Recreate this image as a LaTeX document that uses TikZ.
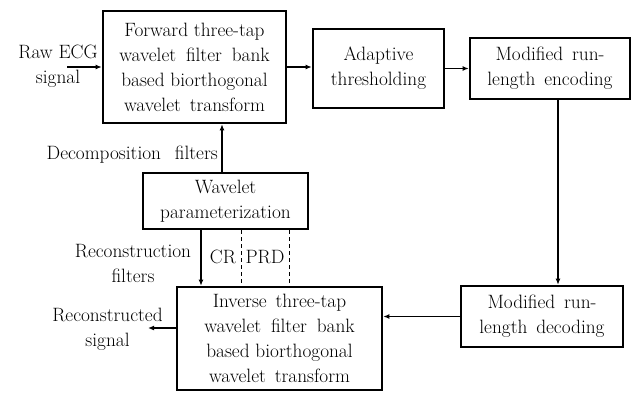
\documentclass[tikz,border=0pt]{standalone}
\usetikzlibrary{arrows.meta,calc}
\begin{document}
\begin{tikzpicture}[x=1pt,y=-1pt,
  every node/.style={font=\fontsize{19.3}{25}\selectfont, align=center, inner sep=0pt},
  blk/.style={draw, line width=2.6pt, minimum width=#1},
  blk/.default=100pt,
  arr/.style={line width=1.2pt, -{Latex[length=6pt,width=5pt]}},
  dsh/.style={line width=1pt, dash pattern=on 4pt off 3pt}]
\useasboundingbox (0,0) rectangle (633,392);
\node[blk=183pt, minimum height=112pt] (fwd) at (194.5,67) {Forward three-tap\\wavelet\hspace{4pt} filter\hspace{4pt} bank\\based biorthogonal\\wavelet\hspace{3pt} transform};
\node[blk=131pt, minimum height=79pt] (thr) at (378.5,68.5) {Adaptive\\thresholding};
\node[blk=160pt, minimum height=61pt] (enc) at (550,68.5) {Modified\hspace{3pt} run-\\length\hspace{3pt} encoding};
\node[blk=165pt, minimum height=56pt] (par) at (225.5,201) {Wavelet\\parameterization};
\node[blk=162pt, minimum height=61pt] (dec) at (542,316.5) {Modified\hspace{3pt} run-\\length\hspace{3pt} decoding};
\node[blk=205pt, minimum height=103pt] (inv) at (279.5,338.5) {Inverse\hspace{3pt} three-tap\\wavelet\hspace{4pt} filter\hspace{4pt} bank\\based biorthogonal\\wavelet\hspace{3pt} transform};
\coordinate (in) at (67,67);
\coordinate (out) at (148,328);
\coordinate (pdn) at ($(par.north)+(-3.5,0)$);
\coordinate (prc) at ($(par.south)+(-24.5,0)$);
\coordinate (pcr) at ($(par.south)+(15.5,0)$);
\coordinate (ppr) at ($(par.south)+(63.5,0)$);
\coordinate (ed) at ($(enc.south)+(8,0)$);
\node (rawl) at (58,66.5) {Raw ECG\\signal};
\node[anchor=east] (decl) at (218,155) {Decomposition\hspace{8pt} filters};
\node (recl) at (133,263.5) {Reconstruction\\filters};
\node (crl) at (223,257) {CR};
\node (prdl) at (265,257) {PRD};
\node (outl) at (107.5,329) {Reconstructed\\signal};
\draw[arr] (in) -- (fwd.west |- in);
\draw[arr] (fwd.east) -- (thr.west |- fwd.east);
\draw[arr] (thr.east) -- (enc.west |- thr.east);
\draw[arr] (ed) -- (ed |- dec.north);
\draw[arr] (dec.west) -- (inv.east |- dec.west);
\draw[arr] (pdn) -- (pdn |- fwd.south);
\draw[arr] (prc) -- (prc |- inv.north);
\draw[dsh] (pcr) -- (pcr |- inv.north);
\draw[dsh] (ppr) -- (ppr |- inv.north);
\draw[arr] (inv.west |- out) -- (out);
\end{tikzpicture}
\end{document}
